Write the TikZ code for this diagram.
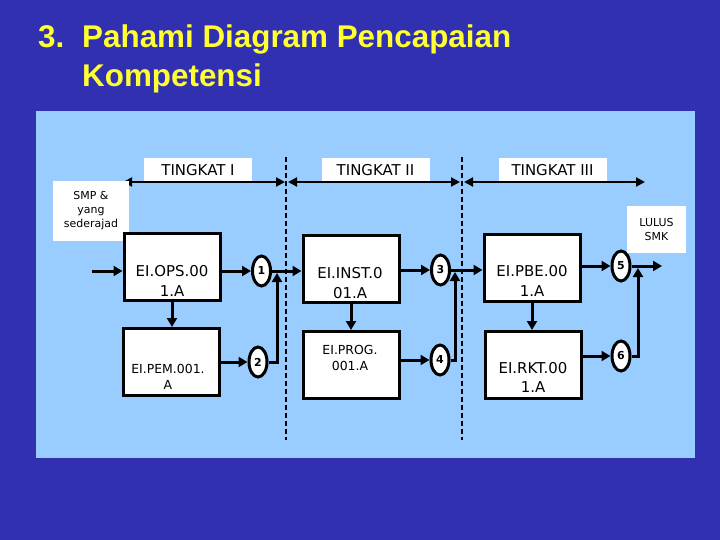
\documentclass[tikz,border=0pt]{standalone}
\usepackage{fontspec}
\setmainfont{DejaVu Sans}
\newfontfamily\titlefont{Liberation Sans}
\usepackage{tikz}
\usetikzlibrary{
  arrows.meta,
  positioning,
  shapes.geometric
}
\definecolor{slideblue}{RGB}{48,48,176}
\definecolor{panelblue}{RGB}{153,204,255}
\definecolor{titleyellow}{RGB}{255,255,51}

\begin{document}
\begin{tikzpicture}[
  x=1bp, y=-1bp,
  title/.style={anchor=base west, inner sep=0pt, text=titleyellow, font=\titlefont\bfseries\fontsize{31.5}{31.5}\selectfont},
  unit/.style={draw, line width=3bp, fill=white, minimum width=96bp, minimum height=67bp, inner sep=0pt},
  unittext/.style={align=center, inner sep=0pt, font=\fontsize{15}{#1}\selectfont},
  unittext/.default=20,
  smalltext/.style={align=center, inner sep=0pt, font=\fontsize{12.5}{#1}\selectfont},
  smalltext/.default=16.5,
  num/.style={draw, ellipse, line width=3bp, fill=white, minimum width=18bp, minimum height=30bp, inner sep=0pt, font=\bfseries\fontsize{11}{11}\selectfont},
  level/.style={fill=white, minimum width=108bp, minimum height=24bp, inner sep=0pt, font=\fontsize{15}{15}\selectfont},
  note/.style={fill=white, align=center, inner sep=0pt, font=\fontsize{11}{14}\selectfont},
  flow/.style={line width=3bp, -{Triangle[length=9bp,width=10bp]}},
  span/.style={line width=2bp, {Triangle[length=9bp,width=9bp]}-{Triangle[length=9bp,width=9bp]}},
  border/.style={line width=2bp, dash pattern=on 5bp off 3bp}
]
  \useasboundingbox (0,0) rectangle (720,540);

  % Slide and panel
  \fill[slideblue] (0,0) rectangle (720,540);
  \fill[panelblue] (36,111) rectangle (695,458);

  % Title
  \node[title] (no) at (38,48) {3.};
  \node[title] (head) at (82,48) {Pahami Diagram Pencapaian};
  \node[title] (head2) at (82,87) {Kompetensi};

  % Level borders
  \draw[border] (286,157) -- (286,440);
  \draw[border] (462,157) -- (462,440);

  % Levels
  \node[level] (lv1) at (198,170) {TINGKAT I};
  \node[level] (lv2) at (375.5,170) {TINGKAT II};
  \node[level] (lv3) at (552.5,170) {TINGKAT III};
  \coordinate (s0) at (123,182);
  \coordinate (s1) at (285,182);
  \coordinate (s1b) at (288,182);
  \coordinate (s2) at (460,182);
  \coordinate (s2b) at (464,182);
  \coordinate (s3) at (645,182);
  \draw[span] (s0) -- (s1);
  \draw[span] (s1b) -- (s2);
  \draw[span] (s2b) -- (s3);

  % Entry and exit
  \node[note, minimum width=76bp, minimum height=60bp] (entry) at (91,211) {SMP \&\\yang\\sederajad};
  \node[note, minimum width=59bp, minimum height=47bp] (exit) at (656.5,229.5) {LULUS\\SMK};

  % Units, level I
  \node[unit] (ops) at (172,267) {};
  \node[unittext] (opsname) at (172,281) {EI.OPS.00\\1.A};
  \node[unit] (pem) at (171,362) {};
  \node[smalltext] (pemname) at (168,377) {EI.PEM.001.\\A};

  % Units, level II
  \node[unit] (inst) at (351,269) {};
  \node[unittext] (instname) at (350,283) {EI.INST.0\\01.A};
  \node[unit] (prog) at (351,365) {};
  \node[smalltext] (progname) at (350,358) {EI.PROG.\\001.A};

  % Units, level III
  \node[unit] (pbe) at (532,268) {};
  \node[unittext] (pbename) at (532,281) {EI.PBE.00\\1.A};
  \node[unit] (rkt) at (533,365) {};
  \node[unittext=19] (rktname) at (533,377) {EI.RKT.00\\1.A};

  % Checkpoints
  \node[num] (c1) at (261.5,271) {1};
  \node[num] (c2) at (258,362) {2};
  \node[num] (c3) at (440.5,270) {3};
  \node[num] (c4) at (440,360) {4};
  \node[num] (c5) at (621,266) {5};
  \node[num] (c6) at (621,356) {6};

  % Arrows
  \coordinate (in) at (92,271);
  \coordinate (j1) at (277,273);
  \coordinate (j2) at (455,272);
  \coordinate (j3) at (638,268);
  \coordinate (out) at (662,266);
  \draw[flow] (in) -- (in -| ops.west);
  \draw[flow] (ops.east |- c1.west) -- (c1.west);
  \draw[flow] (ops.south) -- (ops.south |- pem.north);
  \draw[flow] (pem.east |- c2.west) -- (c2.west);
  \draw[flow] (c1.east) -- (c1.east -| inst.west);
  \draw[flow] (c2.east) -| (j1);
  \draw[flow] (inst.east |- c3.west) -- (c3.west);
  \draw[flow] (inst.south) -- (inst.south |- prog.north);
  \draw[flow] (prog.east |- c4.west) -- (c4.west);
  \draw[flow] (c3.east) -- (c3.east -| pbe.west);
  \draw[flow] (c4.east) -| (j2);
  \draw[flow] (pbe.east |- c5.west) -- (c5.west);
  \draw[flow] (pbe.south) -- (pbe.south |- rkt.north);
  \draw[flow] (rkt.east |- c6.west) -- (c6.west);
  \draw[flow] (c5.east) -- (out);
  \draw[flow] (c6.east) -| (j3);
\end{tikzpicture}
\end{document}
